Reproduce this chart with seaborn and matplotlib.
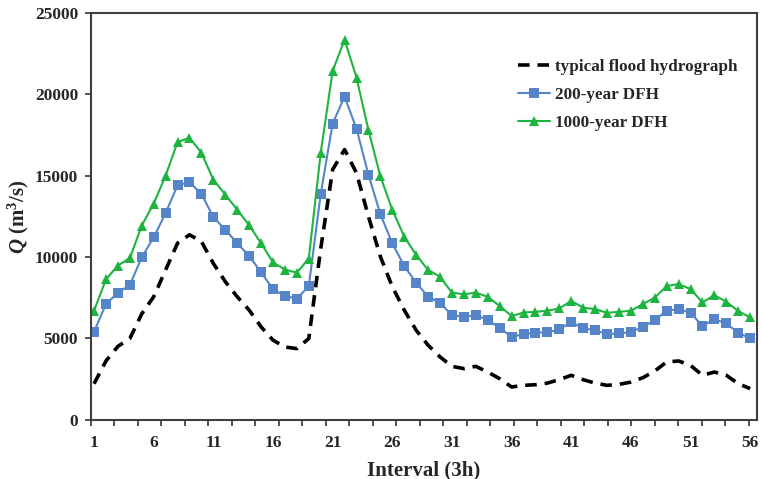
import numpy as np
import pandas as pd
import matplotlib
matplotlib.use("Agg")
import matplotlib.pyplot as plt
import seaborn as sns

interval = list(range(1, 57))
typical = [2200, 3600, 4500, 4980, 6500, 7550, 9200, 10850, 11360, 10950,
           9600, 8480, 7550, 6730, 5700, 4880, 4460, 4360, 4980, 10500,
           15370, 16600, 15160, 12490, 10020, 8170, 6730, 5490, 4570, 3850,
           3270, 3130, 3270, 2920, 2510, 2000, 2100, 2140, 2240, 2450,
           2720, 2450, 2240, 2100, 2160, 2300, 2570, 2980, 3540, 3600,
           3330, 2720, 2920, 2720, 2200, 1900]
dfh200 = [5400, 7100, 7800, 8270, 9980, 11200, 12700, 14400, 14600, 13870,
          12450, 11670, 10840, 10060, 9050, 8020, 7600, 7430, 8200, 13870,
          18200, 19860, 17880, 15060, 12630, 10840, 9440, 8410, 7550, 7180,
          6420, 6320, 6420, 6130, 5630, 5080, 5250, 5330, 5370, 5540,
          5990, 5600, 5490, 5250, 5290, 5370, 5700, 6110, 6690, 6790,
          6560, 5760, 6170, 5910, 5330, 5000]
dfh1000 = [6690, 8620, 9470, 9920, 11930, 13270, 15000, 17060, 17330, 16400,
           14750, 13830, 12900, 11950, 10840, 9670, 9220, 9030, 9900, 16400,
           21440, 23350, 21030, 17800, 14960, 12900, 11250, 10120, 9200, 8780,
           7800, 7700, 7800, 7550, 6980, 6360, 6580, 6620, 6690, 6830,
           7300, 6870, 6790, 6560, 6620, 6690, 7100, 7490, 8210, 8330,
           8020, 7200, 7650, 7240, 6670, 6280]
labels = ["typical flood hydrograph", "200-year DFH", "1000-year DFH"]
xtick_labels = [1, 6, 11, 16, 21, 26, 31, 36, 41, 46, 51, 56]
ytick_values = [0, 5000, 10000, 15000, 20000, 25000]

sns.set_style("white")
plt.rcParams['font.family'] = ['Liberation Serif', 'DejaVu Serif']
plt.rcParams['font.weight'] = 'bold'
plt.rcParams['mathtext.fontset'] = 'custom'
plt.rcParams['mathtext.rm'] = 'Liberation Serif:weight=bold'
plt.rcParams['mathtext.it'] = 'Liberation Serif:style=italic:weight=bold'
plt.rcParams['mathtext.bf'] = 'Liberation Serif:weight=bold'

fig = plt.figure(figsize=(7.61, 4.79), dpi=100)
ax = fig.add_axes([0.1192, 0.1242, 0.8752, 0.8487])

df = pd.DataFrame({"Interval": interval, "typical": typical,
                   "d200": dfh200, "d1000": dfh1000})

sns.lineplot(data=df, x="Interval", y="typical", ax=ax, color="black",
             linestyle=(0, (3.2, 2.2)), linewidth=2.6, label=labels[0],
             dash_capstyle='butt')
sns.lineplot(data=df, x="Interval", y="d200", ax=ax, color="#5585C8",
             linewidth=1.5, marker="s", markersize=6.5, markeredgewidth=0,
             label=labels[1])
sns.lineplot(data=df, x="Interval", y="d1000", ax=ax, color="#1DB440",
             linewidth=1.5, marker="^", markersize=6.5, markeredgewidth=0,
             label=labels[2])

ax.set_xlim(0.72, 56.55)
ax.set_ylim(0, 25000)
ax.set_xticks(xtick_labels)
ax.set_xticklabels([str(v) for v in xtick_labels], fontsize=12.5, fontweight='bold')
ax.set_xticks(np.arange(0.72, 56.6, 1.97), minor=True)
ax.tick_params(axis='x', which='major', length=0, pad=11)
ax.tick_params(axis='x', which='minor', length=4, width=1.2, color='#333333',
               direction='out', bottom=True)
ax.set_yticks(ytick_values)
ax.set_yticklabels([str(v) for v in ytick_values], fontsize=12.5, fontweight='bold')
ax.tick_params(axis='y', length=4, width=1.2, color='#333333', direction='out',
               left=True, pad=5)

for s in ax.spines.values():
    s.set_color('#404040')
    s.set_linewidth(1.5)

ax.set_xlabel("Interval (3h)", fontsize=15, fontweight='bold', labelpad=7)
ax.set_ylabel(r"$Q$ (m$^3$/s)", fontsize=15, fontweight='bold', labelpad=2.5)

leg = ax.legend(loc='upper left', bbox_to_anchor=(0.631, 0.903), frameon=False,
                fontsize=12.3, handlelength=1.9, labelspacing=0.7,
                handletextpad=0.3, borderaxespad=0)
for t in leg.get_texts():
    t.set_fontweight('bold')

fig.savefig("out.png", dpi=100)
